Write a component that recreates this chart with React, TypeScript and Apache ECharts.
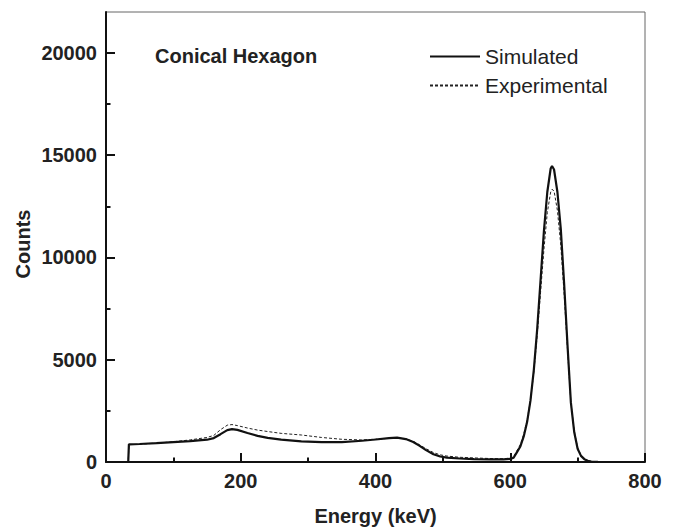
import React, { useEffect, useRef } from "react";
import * as echarts from "echarts";

const energies = [0, 33, 34, 50, 75, 100, 125, 150, 160, 170, 180, 187, 195, 210, 225, 240, 260, 290, 320, 350, 380, 400, 420, 432, 445, 456, 465, 475, 486, 496, 506, 525, 546, 570, 590, 600, 605, 610, 615, 620, 625, 630, 635, 640, 645, 650, 655, 660, 662, 665, 670, 675, 680, 685, 690, 695, 700, 705, 710, 715, 720, 730, 740, 800];

const simulated = [0, 0, 860, 880, 920, 970, 1020, 1090, 1170, 1360, 1560, 1610, 1570, 1420, 1280, 1180, 1090, 1010, 975, 975, 1040, 1100, 1165, 1190, 1120, 980, 800, 580, 380, 270, 215, 170, 145, 130, 130, 150, 210, 480, 760, 1250, 1950, 3000, 4500, 6500, 8900, 11300, 13200, 14350, 14470, 14300, 13200, 11400, 8700, 5700, 2900, 1450, 650, 300, 140, 60, 25, 6, 0, 0];

const experimental = [0, 0, 850, 870, 920, 990, 1080, 1200, 1300, 1580, 1800, 1830, 1780, 1660, 1560, 1490, 1400, 1320, 1200, 1110, 1080, 1110, 1160, 1180, 1130, 1010, 850, 650, 460, 350, 290, 230, 200, 170, 160, 190, 260, 560, 850, 1350, 2050, 3000, 4400, 6200, 8300, 10400, 12200, 13200, 13330, 13250, 12300, 10600, 8200, 5500, 2900, 1500, 700, 330, 150, 70, 30, 8, 0, 0];

const yMajorTicks = [0, 5000, 10000, 15000, 20000];
const yMinorTicks = [2500, 7500, 12500, 17500];
const seriesNames = ["Simulated", "Experimental"];
const chartTitle = "Conical Hexagon";
const xAxisTitle = "Energy (keV)";
const yAxisTitle = "Counts";

const FONT = "'Liberation Sans', Arial, Helvetica, sans-serif";
const TEXT = "#222";

export default function App() {
  const ref = useRef<HTMLDivElement>(null);
  useEffect(() => {
    if (!ref.current) return;
    const chart = echarts.init(ref.current, undefined, { renderer: "svg" });
    const simData = energies.map((e, i) => [e, simulated[i]]);
    const expData = energies.map((e, i) => [e, experimental[i]]);
    chart.setOption({
      animation: false,
      backgroundColor: "#fff",
      textStyle: { fontFamily: FONT },
      title: {
        text: chartTitle,
        left: 155,
        top: 46,
        padding: 0,
        textStyle: { fontFamily: FONT, fontSize: 20, fontWeight: "bold", color: TEXT, lineHeight: 20 },
      },
      legend: {
        data: seriesNames,
        orient: "vertical",
        left: 429,
        top: 46,
        padding: 0,
        itemWidth: 50,
        itemHeight: 14,
        itemGap: 8,
        itemStyle: { opacity: 0 },
        textStyle: { fontFamily: FONT, fontSize: 21, color: TEXT, lineHeight: 20 },
      },
      grid: {
        left: 106,
        right: 31,
        top: 12,
        bottom: 65,
        containLabel: false,
        outerBoundsMode: "none",
        show: true,
        borderColor: "#666",
        borderWidth: 1,
      },
      xAxis: {
        type: "value",
        min: 0,
        max: 800,
        interval: 200,
        name: xAxisTitle,
        nameLocation: "middle",
        nameGap: 44,
        nameTextStyle: { fontFamily: FONT, fontSize: 20, fontWeight: "bold", color: TEXT },
        axisLine: { show: true, onZero: false, lineStyle: { color: "#111", width: 2 } },
        axisTick: { show: true, inside: true, length: 9, lineStyle: { color: "#111", width: 2 } },
        minorTick: { show: true, splitNumber: 2, length: 4.5, lineStyle: { color: "#111", width: 2 } },
        axisLabel: { fontFamily: FONT, fontSize: 20, fontWeight: "bold", color: TEXT, margin: 9, formatter: (v: number) => String(v) },
        splitLine: { show: false },
        minorSplitLine: { show: false },
      },
      yAxis: [
        {
          type: "value",
          min: 0,
          max: 22000,
          position: "left",
          axisLine: { show: true, onZero: false, lineStyle: { color: "#111", width: 2 } },
          axisTick: { show: true, inside: true, length: 9, customValues: yMajorTicks, lineStyle: { color: "#111", width: 2 } },
          axisLabel: {
            customValues: yMajorTicks,
            fontFamily: FONT,
            fontSize: 20,
            fontWeight: "bold",
            color: TEXT,
            margin: 9,
            formatter: (v: number) => String(v),
          },
          splitLine: { show: false },
        },
        {
          type: "value",
          min: 0,
          max: 22000,
          position: "left",
          offset: 0,
          axisLine: { show: false },
          axisTick: { show: true, inside: true, length: 4.5, customValues: yMinorTicks, lineStyle: { color: "#111", width: 2 } },
          axisLabel: { show: false },
          splitLine: { show: false },
        },
      ],
      graphic: [
        {
          type: "text",
          x: 23,
          y: 244,
          rotation: Math.PI / 2,
          style: {
            text: yAxisTitle,
            fontFamily: FONT,
            fontSize: 20,
            fontWeight: "bold",
            fill: TEXT,
            align: "center",
            verticalAlign: "middle",
          },
        },
      ],
      series: [
        {
          name: seriesNames[0],
          type: "line",
          data: simData,
          symbol: "none",
          showSymbol: false,
          z: 3,
          lineStyle: { color: "#111", width: 2.2 },
          itemStyle: { color: "#111" },
        },
        {
          name: seriesNames[1],
          type: "line",
          data: expData,
          symbol: "none",
          showSymbol: false,
          z: 2,
          lineStyle: { color: "#222", width: 1, type: [3, 2] },
          itemStyle: { color: "#222" },
        },
      ],
    });
    return () => chart.dispose();
  }, []);
  return (
    <div
      ref={ref}
      style={{ position: "absolute", left: 0, top: 0, width: 676, height: 527, background: "#fff" }}
    />
  );
}
